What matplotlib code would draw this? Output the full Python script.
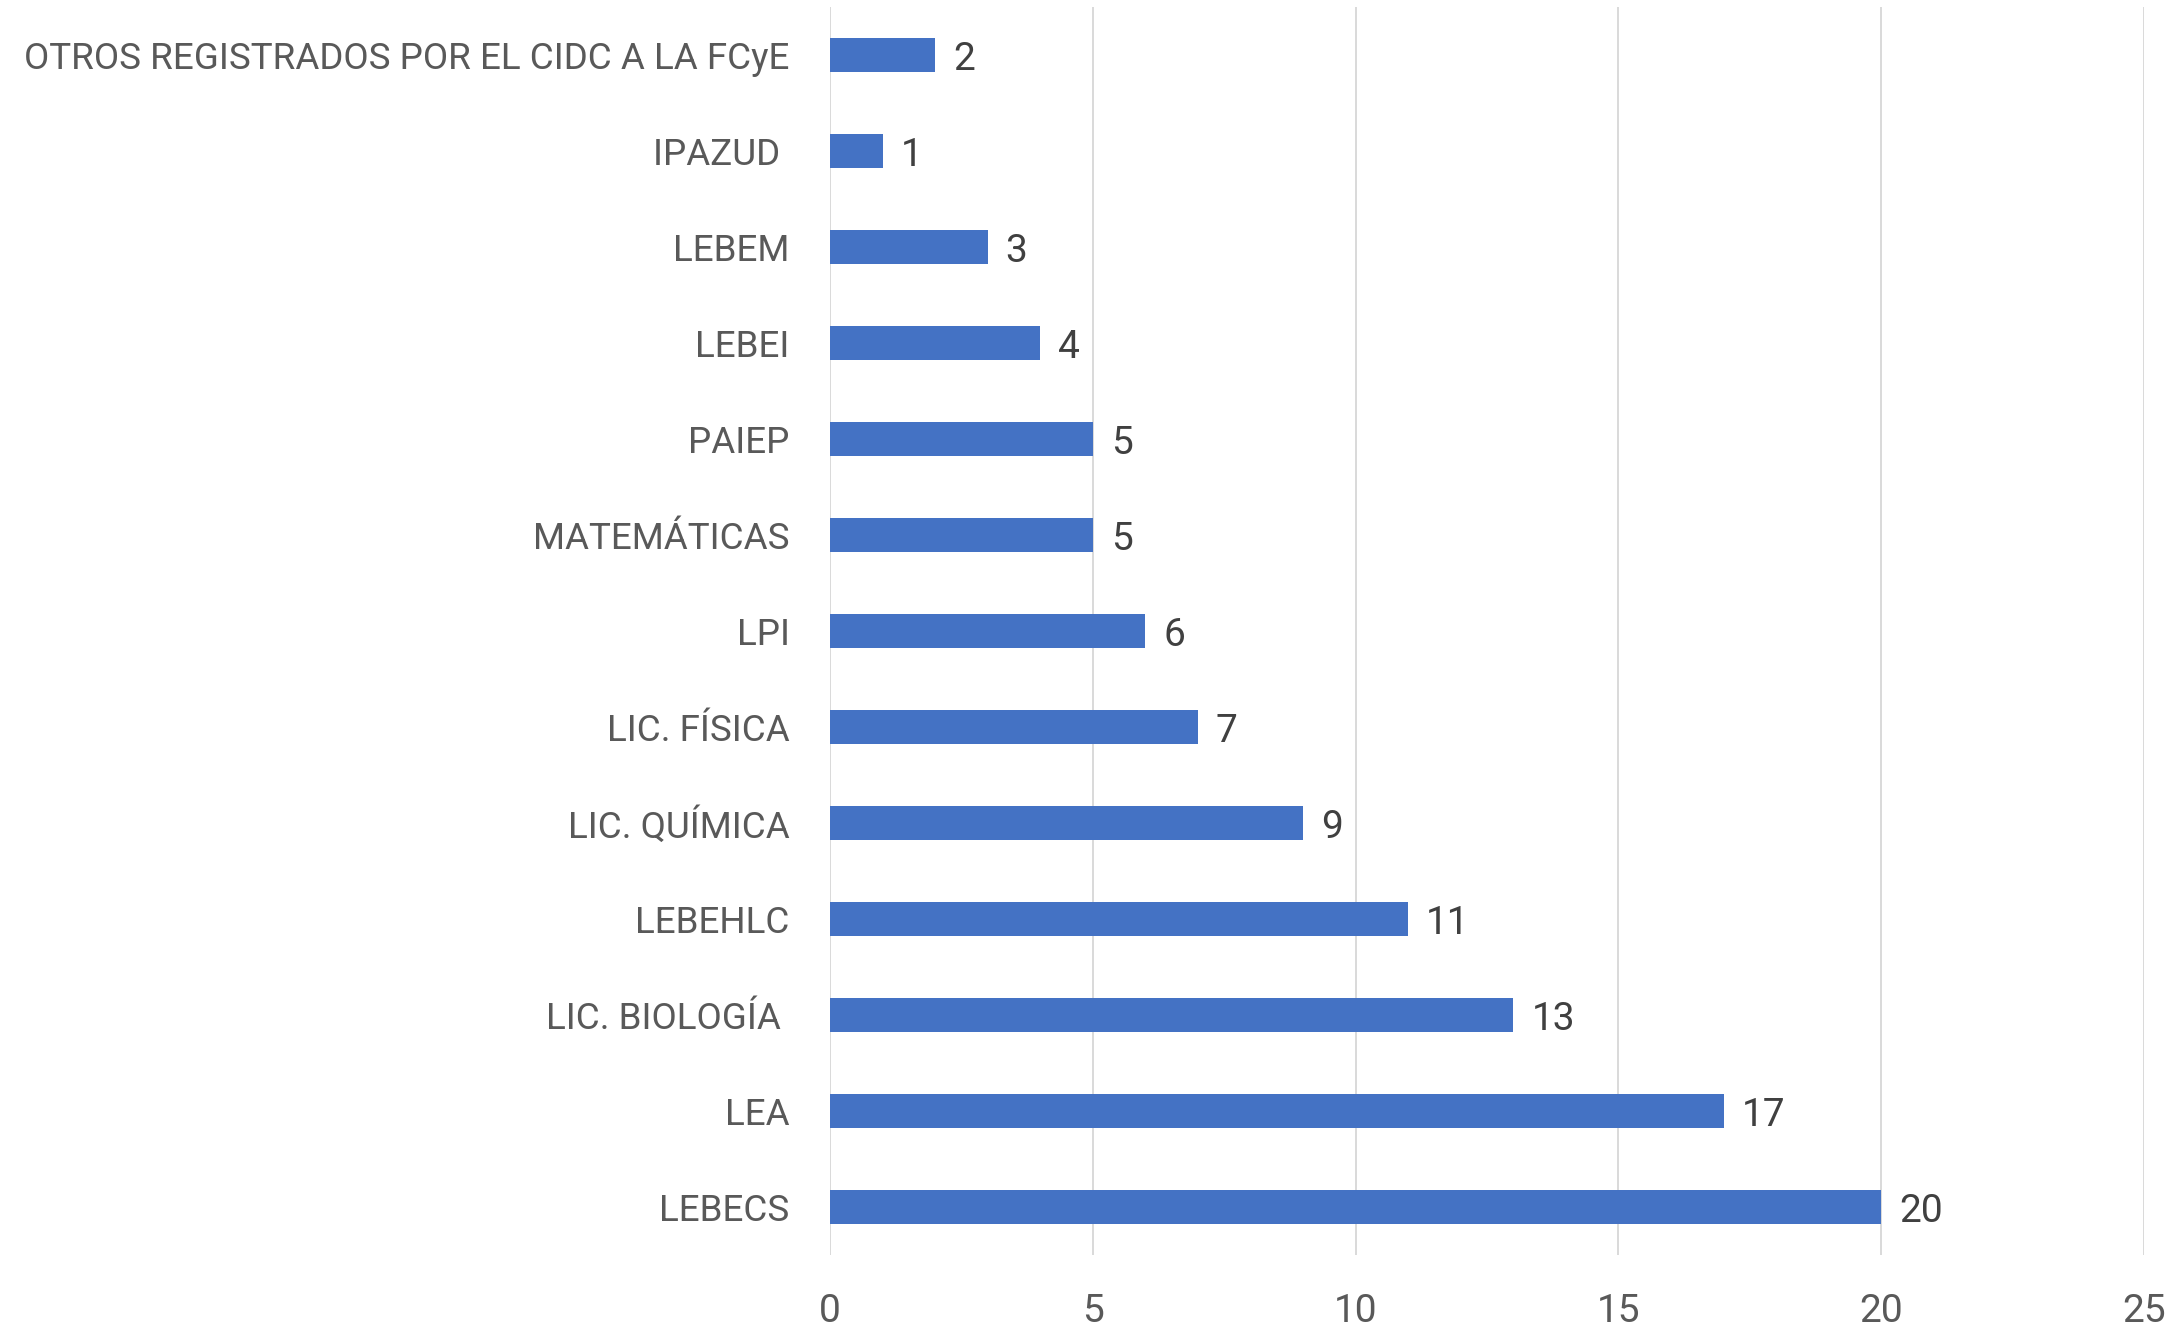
#! /usr/bin/env python3
""" Horizontal bar chart of registered items per program. """

import matplotlib
matplotlib.use('Agg')
import matplotlib.pyplot as plt

# Listed top to bottom as in the chart
programas = ['OTROS REGISTRADOS POR EL CIDC A LA FCyE', 'IPAZUD ', 'LEBEM', 'LEBEI',
             'PAIEP', 'MATEMÁTICAS', 'LPI', 'LIC. FÍSICA', 'LIC. QUÍMICA',
             'LEBEHLC', 'LIC. BIOLOGÍA ', 'LEA', 'LEBECS']
cantidades = [2, 1, 3, 4, 5, 5, 6, 7, 9, 11, 13, 17, 20]
xticks = [0, 5, 10, 15, 20, 25]

plt.rcParams['font.family'] = ['Roboto', 'DejaVu Sans']

fig = plt.figure(figsize=(21.74, 13.30), dpi=100)
ax = fig.add_axes([830 / 2174, 75 / 1330, (2144 - 830) / 2174, (1255 - 7) / 1330])

ypos = list(range(len(programas)))
ax.barh(ypos, cantidades, height=0.35, color='#4472C4', zorder=3)
for y, v in zip(ypos, cantidades):
    ax.annotate(str(v), (v, y), xytext=(13, -3), textcoords='offset points',
                va='center', ha='left', fontsize=28, color='#404040')

ax.set_ylim(len(programas) - 0.5, -0.5)
ax.set_xlim(0, 25)
ax.set_yticks(ypos)
ax.set_yticklabels(programas, fontsize=26.5, color='#595959')
ax.set_xticks(xticks)
ax.set_xticklabels([str(t) for t in xticks], fontsize=28, color='#595959')
ax.tick_params(axis='y', length=0, pad=29)
ax.tick_params(axis='x', length=0, pad=27.5)

ax.xaxis.grid(True, color='#d9d9d9', linewidth=1.4, zorder=0)
ax.set_axisbelow(True)
for s in ax.spines.values():
    s.set_visible(False)

fig.savefig('out.png', dpi=100)
